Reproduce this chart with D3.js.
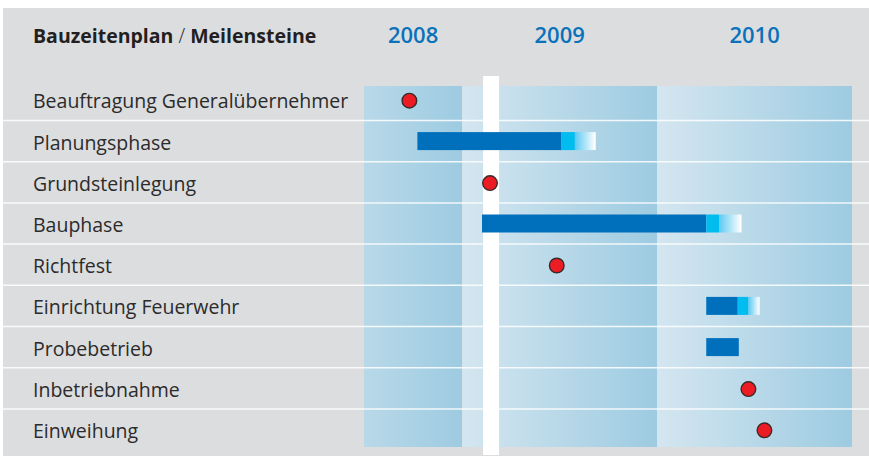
<!DOCTYPE html>
<html>
<head>
<meta charset="utf-8">
<script src="https://cdn.jsdelivr.net/npm/d3@7"></script>
<style>
  html, body { margin: 0; padding: 0; background: #fff; }
  svg { display: block; }
</style>
</head>
<body>
<svg id="chart" width="869" height="456"></svg>
<script>
// rows of the schedule, top to bottom
var rows = ["Beauftragung Generalübernehmer", "Planungsphase", "Grundsteinlegung", "Bauphase",
            "Richtfest", "Einrichtung Feuerwehr", "Probebetrieb", "Inbetriebnahme", "Einweihung"];
var years = [2008, 2009, 2010];
var timeStart = "2008-07-01";
var timeEnd = "2011-01-01";
var today = "2009-02-24";

// milestones (red dots)
var milestoneRows = ["Beauftragung Generalübernehmer", "Grundsteinlegung", "Richtfest", "Inbetriebnahme", "Einweihung"];
var milestoneDates = ["2008-09-24", "2009-02-22", "2009-06-27", "2010-06-21", "2010-07-21"];

// phases (bars): start, end of solid part, end of cyan part, end of fade (null = none)
var phaseRows = ["Planungsphase", "Bauphase", "Einrichtung Feuerwehr", "Probebetrieb"];
var phaseStarts = ["2008-10-09", "2009-02-07", "2010-04-03", "2010-04-03"];
var phaseEnds = ["2009-07-06", "2010-04-03", "2010-06-01", "2010-06-03"];
var phaseSoftEnds = ["2009-07-31", "2010-04-27", "2010-06-21", null];
var phaseFadeEnds = ["2009-09-08", "2010-06-08", "2010-07-12", null];

var parse = d3.timeParse("%Y-%m-%d");
var svg = d3.select("#chart");

var x = d3.scaleTime()
    .domain([parse(timeStart), parse(timeEnd)])
    .range([364, 852]);
var y = d3.scaleBand()
    .domain(rows)
    .range([79.3, 450.1]);

var bandTop = 86, bandBottom = 447;

// grey panel
svg.append("rect")
    .attr("x", 3).attr("y", 8)
    .attr("width", 866).attr("height", 448)
    .attr("fill", "#dcdddf");

var defs = svg.append("defs");

// year bands
years.forEach(function(yr) {
    var x0 = x(new Date(yr, 0, 1)), x1 = x(new Date(yr + 1, 0, 1));
    var g = defs.append("linearGradient")
        .attr("id", "yr" + yr)
        .attr("gradientUnits", "userSpaceOnUse")
        .attr("x1", x0).attr("x2", x1).attr("y1", 0).attr("y2", 0);
    g.append("stop").attr("offset", "0%").attr("stop-color", "#d4e6f0");
    g.append("stop").attr("offset", "100%").attr("stop-color", "#9dcbe1");
});

var visYears = years.map(function(yr) {
    var a = Math.max(x(new Date(yr, 0, 1)), x.range()[0]);
    var b = Math.min(x(new Date(yr + 1, 0, 1)), x.range()[1]);
    return {year: yr, a: a, b: b};
});

svg.selectAll(".yearBand")
    .data(visYears)
    .enter().append("rect")
    .attr("class", "yearBand")
    .attr("x", function(d) { return d.a; })
    .attr("y", bandTop)
    .attr("width", function(d) { return d.b - d.a; })
    .attr("height", bandBottom - bandTop)
    .attr("fill", function(d) { return "url(#yr" + d.year + ")"; });

// today marker
svg.append("rect")
    .attr("x", x(parse(today)) - 8)
    .attr("y", 76)
    .attr("width", 16)
    .attr("height", 379)
    .attr("fill", "#ffffff");

// row separators
svg.selectAll(".sep")
    .data(rows.slice(1))
    .enter().append("line")
    .attr("class", "sep")
    .attr("x1", 3).attr("x2", 869)
    .attr("y1", function(d) { return y(d); })
    .attr("y2", function(d) { return y(d); })
    .attr("stroke", "#ffffff")
    .attr("stroke-opacity", 0.85)
    .attr("stroke-width", 1.5);

// title and year labels
var title = svg.append("text")
    .attr("x", 33).attr("y", 43)
    .attr("xml:space", "preserve")
    .style("white-space", "pre")
    .attr("font-family", "'Open Sans', sans-serif")
    .attr("font-weight", 700)
    .attr("font-size", "19.5px")
    .attr("fill", "#231f20");
title.append("tspan").text("Bauzeitenplan ");
title.append("tspan").attr("font-weight", 300).text("/");
title.append("tspan").text(" Meilensteine");

svg.selectAll(".yearLabel")
    .data(visYears)
    .enter().append("text")
    .attr("class", "yearLabel")
    .attr("x", function(d) { return (d.a + d.b) / 2; })
    .attr("y", 43)
    .attr("text-anchor", "middle")
    .attr("font-family", "'Open Sans', sans-serif")
    .attr("font-weight", 600)
    .attr("font-size", "22px")
    .attr("fill", "#0a72ba")
    .text(function(d) { return d.year; });

// row labels
svg.selectAll(".rowLabel")
    .data(rows)
    .enter().append("text")
    .attr("class", "rowLabel")
    .attr("x", 33)
    .attr("y", function(d) { return y(d) + y.bandwidth() / 2 + 8.5; })
    .attr("font-family", "'Open Sans', sans-serif")
    .attr("font-size", "19.5px")
    .attr("fill", "#2b2b2b")
    .text(function(d) { return d; });

// phase bars
var fade = defs.append("linearGradient")
    .attr("id", "fade")
    .attr("x1", "0%").attr("x2", "100%");
fade.append("stop").attr("offset", "0%").attr("stop-color", "#5cc9f2");
fade.append("stop").attr("offset", "92%").attr("stop-color", "#f4fbfe");
fade.append("stop").attr("offset", "92%").attr("stop-color", "#ffffff");
fade.append("stop").attr("offset", "100%").attr("stop-color", "#ffffff");

var barH = 18;
phaseRows.forEach(function(r, i) {
    var cy = y(r) + y.bandwidth() / 2;
    var s = x(parse(phaseStarts[i])), e = x(parse(phaseEnds[i]));
    svg.append("rect")
        .attr("x", s).attr("y", cy - barH / 2)
        .attr("width", e - s).attr("height", barH)
        .attr("fill", "#0070bc");
    if (phaseSoftEnds[i]) {
        var c = x(parse(phaseSoftEnds[i]));
        var f = x(parse(phaseFadeEnds[i]));
        svg.append("rect")
            .attr("x", e).attr("y", cy - barH / 2)
            .attr("width", c - e).attr("height", barH)
            .attr("fill", "#00bcef");
        svg.append("rect")
            .attr("x", c).attr("y", cy - barH / 2)
            .attr("width", f - c).attr("height", barH)
            .attr("fill", "url(#fade)");
    }
});

// milestones
svg.selectAll(".milestone")
    .data(milestoneRows.map(function(r, i) { return {row: r, date: parse(milestoneDates[i])}; }))
    .enter().append("circle")
    .attr("class", "milestone")
    .attr("cx", function(d) { return x(d.date); })
    .attr("cy", function(d) { return y(d.row) + y.bandwidth() / 2 + 0.8; })
    .attr("r", 7.3)
    .attr("fill", "#ec1c24")
    .attr("stroke", "#3a2a2a")
    .attr("stroke-width", 1.4);
</script>
</body>
</html>
